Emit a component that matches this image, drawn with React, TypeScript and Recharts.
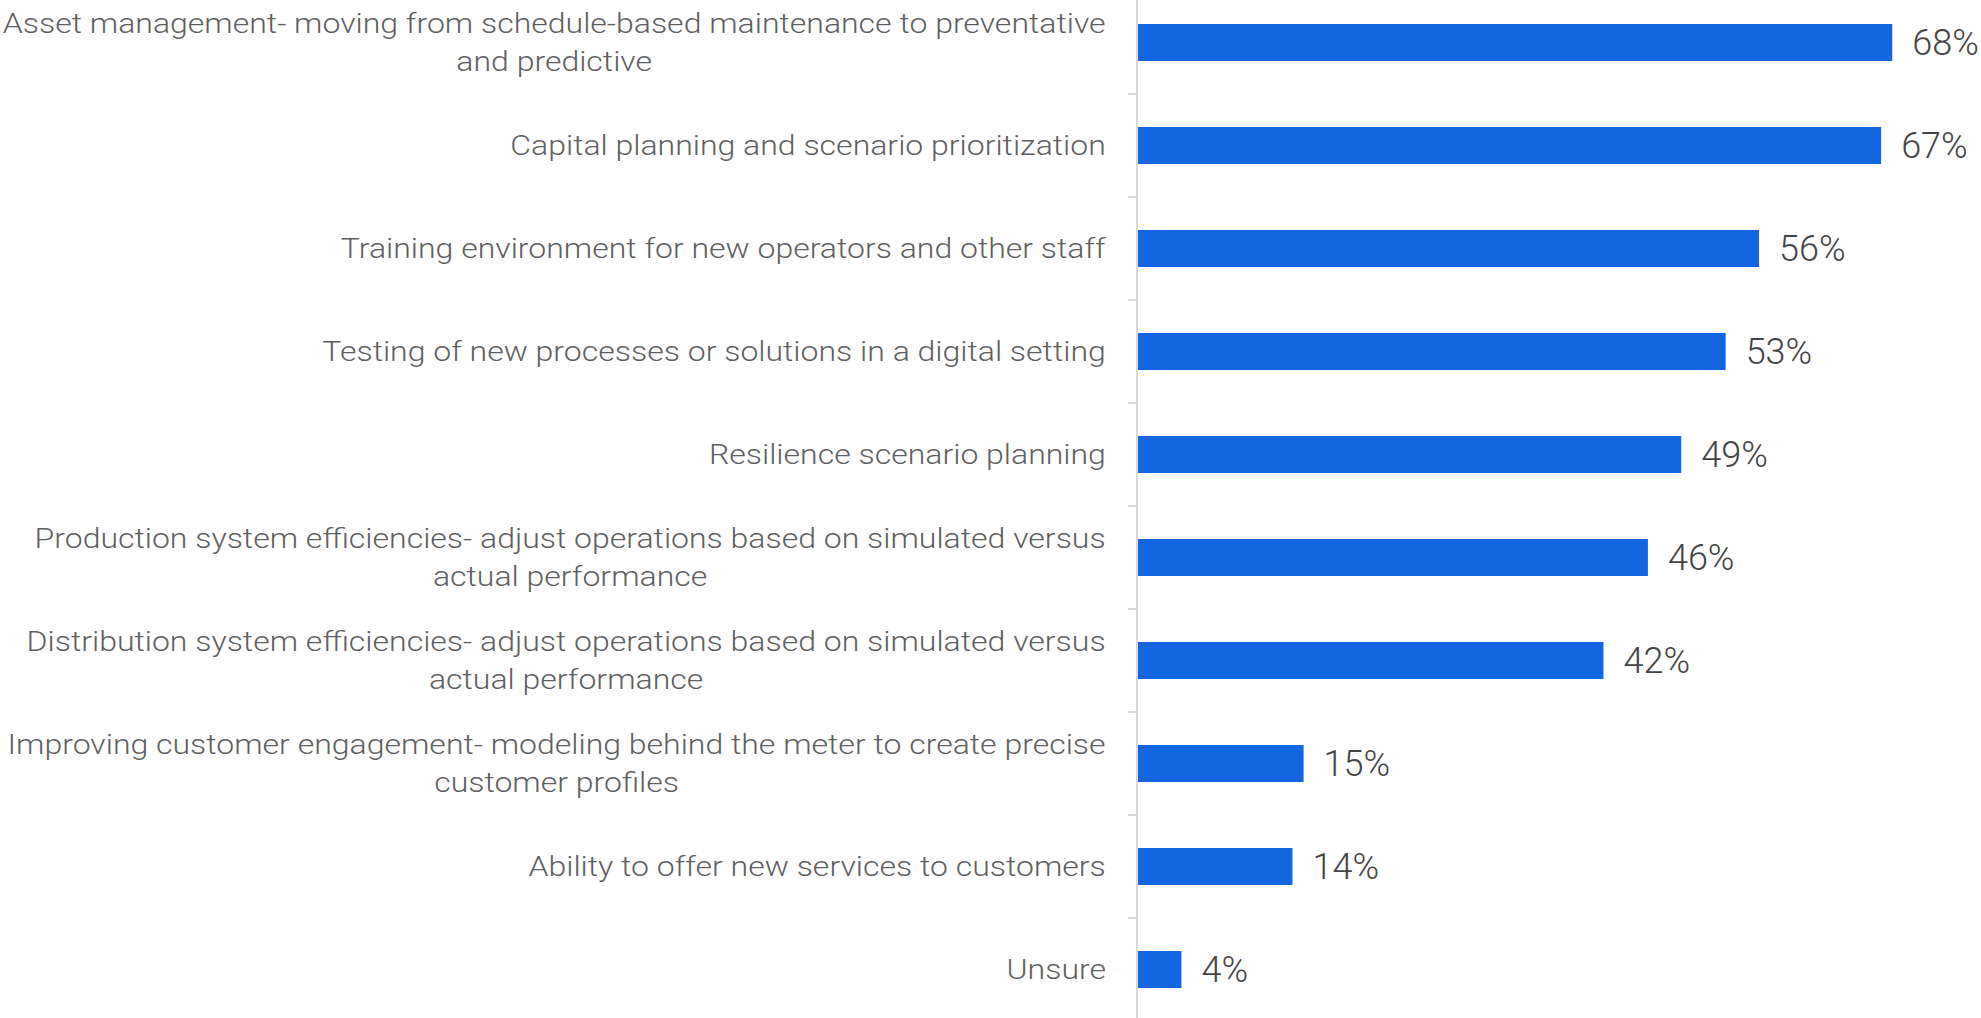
import React from "react";
import { BarChart, Bar, XAxis, YAxis, LabelList } from "recharts";

// survey answers, top to bottom; "\n" marks where the source wraps the label
const categories = [
  "Asset management- moving from schedule-based maintenance to preventative\nand predictive",
  "Capital planning and scenario prioritization",
  "Training environment for new operators and other staff",
  "Testing of new processes or solutions in a digital setting",
  "Resilience scenario planning",
  "Production system efficiencies- adjust operations based on simulated versus\nactual performance",
  "Distribution system efficiencies- adjust operations based on simulated versus\nactual performance",
  "Improving customer engagement- modeling behind the meter to create precise\ncustomer profiles",
  "Ability to offer new services to customers",
  "Unsure",
];
const shares = [68, 67, 56, 53, 49, 46, 42, 15, 14, 4];
const valueDomain = [0, 75];

const data = categories.map((name, i) => ({ name, share: shares[i] }));

const BAR_COLOR = "#1366e0";
const AXIS_COLOR = "#d9d9d9";
const TICK_SIZE = 9;
const TICK_MARGIN = 22;
const LABEL_SIZE = 28;
const LABEL_STRETCH = 1.143; // source labels are set a bit wider than plain Roboto Light
const LINE_HEIGHT = 38;
const LABEL_FONT = `300 ${LABEL_SIZE}px Roboto`;

let ctx: CanvasRenderingContext2D | null = null;
function textWidth(s: string) {
  if (!ctx) ctx = document.createElement("canvas").getContext("2d");
  if (!ctx) return s.length * 13;
  ctx.font = LABEL_FONT;
  return ctx.measureText(s).width;
}

function CategoryTick(props: any) {
  const { x, y, payload, index } = props;
  const lines = String(payload.value).split("\n");
  const maxW = Math.max(...lines.map(textWidth));
  const half = payload.offset ?? 0;
  const axisX = x + TICK_SIZE + TICK_MARGIN;
  // label block is right-aligned to the tick position, shorter lines centred under the longest
  const cx = -maxW / 2;
  return (
    <g>
      {index < categories.length - 1 && (
        <line x1={axisX - TICK_SIZE} x2={axisX} y1={y + half} y2={y + half} stroke={AXIS_COLOR} strokeWidth={2} />
      )}
      <g transform={`translate(${x},${y}) scale(${LABEL_STRETCH},1)`}>
        <text textAnchor="middle" fontFamily="Roboto" fontWeight={300} fontSize={LABEL_SIZE} fill="#5f5f5f">
          {lines.map((l, i) => (
            <tspan key={i} x={cx} y={(i - (lines.length - 1) / 2) * LINE_HEIGHT} dy="0.355em">
              {l}
            </tspan>
          ))}
        </text>
      </g>
    </g>
  );
}

export default function App() {
  return (
    <div style={{ position: "absolute", left: 0, top: -9 }}>
      <BarChart
        width={1981}
        height={1030}
        data={data}
        layout="vertical"
        margin={{ top: 0, right: 11, bottom: 0, left: 0 }}
        style={{ fontFamily: "Roboto" }}
      >
        <XAxis type="number" domain={valueDomain} hide />
        <YAxis
          type="category"
          dataKey="name"
          width={1137}
          interval={0}
          tick={<CategoryTick />}
          tickLine={false}
          tickSize={TICK_SIZE}
          tickMargin={TICK_MARGIN}
          axisLine={{ stroke: AXIS_COLOR, strokeWidth: 2 }}
        />
        <Bar dataKey="share" fill={BAR_COLOR} barSize={37} isAnimationActive={false}>
          <LabelList
            dataKey="share"
            position="right"
            offset={20}
            formatter={(v: any) => `${v}%`}
            fill="#444444"
            fontSize={36}
            fontFamily="Roboto"
            fontWeight={300}
          />
        </Bar>
      </BarChart>
    </div>
  );
}
